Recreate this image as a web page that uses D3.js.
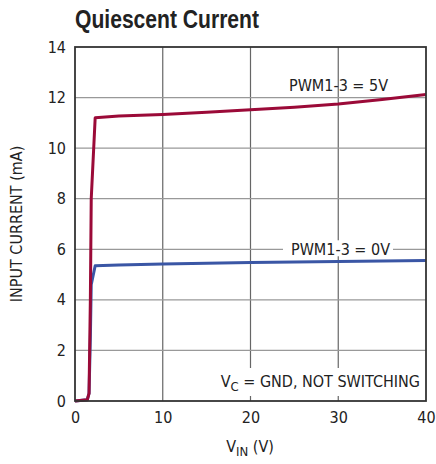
<!DOCTYPE html>
<html><head><meta charset="utf-8">
<script src="https://cdn.jsdelivr.net/npm/d3@7"></script>
<style>
body{margin:0;background:#fff;}
text{font-family:"DejaVu Sans Condensed","Liberation Sans Narrow",sans-serif;}
</style></head>
<body><svg id="c" width="436" height="464"></svg>
<script>
const xTicks=[0,10,20,30,40];
const yTicks=[0,2,4,6,8,10,12,14];
const vin5=[0,1.4,1.6,1.75,1.85,2.3,5,10,15,20,25,30,35,40];
const i5=[0,0.05,0.3,4,8,11.2,11.27,11.33,11.42,11.52,11.62,11.75,11.92,12.12];
const vin0=[0,1.4,1.6,1.75,1.85,2.3,5,10,20,30,40];
const i0=[0,0.05,0.3,2.5,4.6,5.35,5.38,5.42,5.48,5.52,5.56];

const svg=d3.select("#c");
const m={l:75,r:426,t:47,b:401};
const x=d3.scaleLinear().domain([0,40]).range([m.l,m.r]);
const y=d3.scaleLinear().domain([0,14]).range([m.b,m.t]);

const g=svg.append("g");
g.selectAll(".vx").data(xTicks.slice(1,-1)).join("line")
 .attr("x1",d=>x(d)).attr("x2",d=>x(d)).attr("y1",m.t).attr("y2",m.b)
 .attr("stroke","#666").attr("stroke-width",1.2);
g.selectAll(".hy").data(yTicks.slice(1,-1)).join("line")
 .attr("y1",d=>y(d)).attr("y2",d=>y(d)).attr("x1",m.l).attr("x2",m.r)
 .attr("stroke","#999").attr("stroke-width",1.2);

svg.append("rect").attr("x",283).attr("y",y(6)-9).attr("width",110).attr("height",16).attr("fill","#fff");
svg.append("rect").attr("x",206).attr("y",368).attr("width",218).attr("height",28).attr("fill","#fff");

const line=d3.line().x(d=>x(d[0])).y(d=>y(d[1])).curve(d3.curveLinear);
svg.append("path").datum(vin0.map((v,i)=>[v,i0[i]])).attr("d",line)
 .attr("fill","none").attr("stroke","#3a56a5").attr("stroke-width",3).attr("stroke-linejoin","round");
svg.append("path").datum(vin5.map((v,i)=>[v,i5[i]])).attr("d",line)
 .attr("fill","none").attr("stroke","#9b0a38").attr("stroke-width",3).attr("stroke-linejoin","round");

svg.append("rect").attr("x",m.l).attr("y",m.t).attr("width",m.r-m.l).attr("height",m.b-m.t)
 .attr("fill","none").attr("stroke","#333").attr("stroke-width",1.8);

const xa=d3.axisBottom(x).tickValues(xTicks).tickSize(0).tickPadding(11);
svg.append("g").attr("transform",`translate(0,${m.b})`).call(xa)
 .call(s=>{s.select(".domain").remove();s.selectAll("text").attr("font-size",16).attr("fill","#222");});
const ya=d3.axisLeft(y).tickValues(yTicks).tickSize(0).tickPadding(9);
svg.append("g").attr("transform",`translate(${m.l},0)`).call(ya)
 .call(s=>{s.select(".domain").remove();s.selectAll("text").attr("font-size",16).attr("fill","#222");});

svg.append("text").attr("x",75).attr("y",28).attr("font-size",25).attr("font-weight","bold")
 .attr("textLength",184).attr("lengthAdjust","spacingAndGlyphs")
 .style("font-family","'Liberation Sans',sans-serif").attr("fill","#222").text("Quiescent Current");

svg.append("text").attr("transform","translate(22,224) rotate(-90)").attr("text-anchor","middle")
 .attr("font-size",16).attr("fill","#222").text("INPUT CURRENT (mA)");

const xl=svg.append("text").attr("x",250).attr("y",452).attr("text-anchor","middle").attr("font-size",16).attr("fill","#222");
xl.append("tspan").text("V");
xl.append("tspan").attr("font-size",13).attr("dy",4).text("IN");
xl.append("tspan").attr("dy",-4).text(" (V)");

svg.append("text").attr("x",388).attr("y",91).attr("text-anchor","end").attr("font-size",16).attr("fill","#222").text("PWM1-3 = 5V");
svg.append("text").attr("x",390).attr("y",y(6)+6).attr("text-anchor","end").attr("font-size",16).attr("fill","#222").text("PWM1-3 = 0V");

const vc=svg.append("text").attr("x",420).attr("y",387).attr("text-anchor","end").attr("font-size",16).attr("fill","#222");
vc.append("tspan").text("V");
vc.append("tspan").attr("font-size",13).attr("dy",4).text("C");
vc.append("tspan").attr("dy",-4).text(" = GND, NOT SWITCHING");
</script></body></html>
